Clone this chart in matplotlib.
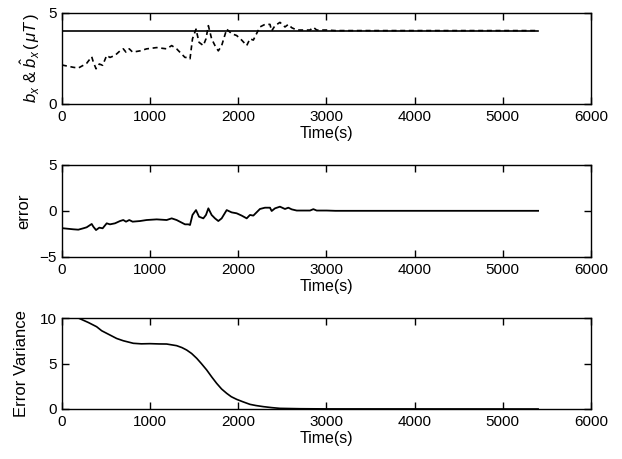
import matplotlib
matplotlib.use("Agg")
import matplotlib.pyplot as plt
import numpy as np

plt.rcParams['font.family'] = ['Liberation Sans', 'DejaVu Sans']
plt.rcParams['mathtext.fontset'] = 'custom'
plt.rcParams['mathtext.rm'] = 'Liberation Sans'
plt.rcParams['mathtext.it'] = 'Liberation Sans:italic'

# true bias and time span of the run
b_true = 4.0
t_end = 5400

# estimation error of the bias (estimate minus true value)
t_err = [0, 15, 128, 185, 242, 280, 337, 355, 386, 423, 461, 507, 544, 601,
         658, 695, 726, 763, 801, 885, 960, 1074, 1187, 1244, 1300, 1395,
         1433, 1452, 1480, 1520, 1554, 1603, 1633, 1660, 1697, 1735, 1773,
         1811, 1868, 1924, 1981, 2038, 2095, 2132, 2170, 2245, 2302, 2359,
         2378, 2416, 2472, 2529, 2567, 2605, 2662, 2813, 2851, 2889, 3002,
         3100, 5400]
err = [-1.85, -1.88, -1.99, -2.03, -1.88, -1.77, -1.41, -1.7, -2.07, -1.81,
       -1.88, -1.34, -1.45, -1.34, -1.09, -0.98, -1.16, -0.98, -1.16, -1.09,
       -0.98, -0.91, -0.98, -0.8, -0.98, -1.45, -1.45, -1.52, -0.43, 0.1,
       -0.62, -0.8, -0.43, 0.29, -0.43, -0.8, -1.09, -0.8, 0.1, -0.15,
       -0.25, -0.5, -0.8, -0.43, -0.5, 0.22, 0.36, 0.36, 0.0, 0.29, 0.47,
       0.22, 0.36, 0.18, 0.05, 0.05, 0.2, 0.05, 0.05, 0.02, 0.02]

# error variance of the filter
t_var = [0, 185, 300, 393, 450, 544, 620, 695, 809, 900, 998, 1100, 1187,
         1300, 1360, 1414, 1470, 1528, 1580, 1641, 1700, 1754, 1810, 1868,
         1920, 1981, 2050, 2132, 2200, 2283, 2380, 2472, 2700, 3000, 5400]
var = [10, 10, 9.5, 9.04, 8.6, 8.13, 7.75, 7.5, 7.22, 7.16, 7.18, 7.15,
       7.14, 6.96, 6.75, 6.48, 6.1, 5.57, 5.0, 4.29, 3.5, 2.82, 2.2, 1.72,
       1.35, 1.06, 0.8, 0.51, 0.38, 0.26, 0.15, 0.07, 0.03, 0.01, 0.0]

fig = plt.figure(figsize=(6.22, 4.59), dpi=100)
W, H = 622, 459


def make_axes(top_px, bot_px):
    left, right = 62, 591
    return fig.add_axes([left / W, 1 - bot_px / H, (right - left) / W,
                         (bot_px - top_px) / H])


ax1 = make_axes(12.7, 104)
ax2 = make_axes(165, 257)
ax3 = make_axes(318, 409)

est = b_true + np.asarray(err)
ax1.plot([0, t_end], [b_true, b_true], color='black', lw=1.2)
ax1.plot(t_err, est, color='black', lw=1.2, dashes=(3, 2.2))
ax1.set_ylim(0, 5)
ax1.set_yticks([0, 5])
ax1.set_ylabel(r'$b_x$ & $\hat{b}_x\,(\,\mu T\,)$', fontsize=12)

ax2.plot(t_err, err, color='black', lw=1.3)
ax2.set_ylim(-5, 5)
ax2.set_yticks([-5, 0, 5])
ax2.set_ylabel('error', fontsize=12)

ax3.plot(t_var, var, color='black', lw=1.2)
ax3.set_ylim(0, 10)
ax3.set_yticks([0, 5, 10])
ax3.set_ylabel('Error Variance', fontsize=12)

for ax, lx in ((ax1, -0.038), (ax2, -0.058), (ax3, -0.063)):
    ax.set_xlim(0, 6000)
    ax.set_xticks(range(0, 6001, 1000))
    ax.set_xlabel('Time(s)', fontsize=11.5, labelpad=2)
    ax.tick_params(direction='in', top=True, right=True, length=5, width=1,
                   labelsize=11, pad=4)
    for s in ax.spines.values():
        s.set_linewidth(1.0)
    ax.yaxis.set_label_coords(lx, 0.5)

fig.savefig('out.png', dpi=100)
